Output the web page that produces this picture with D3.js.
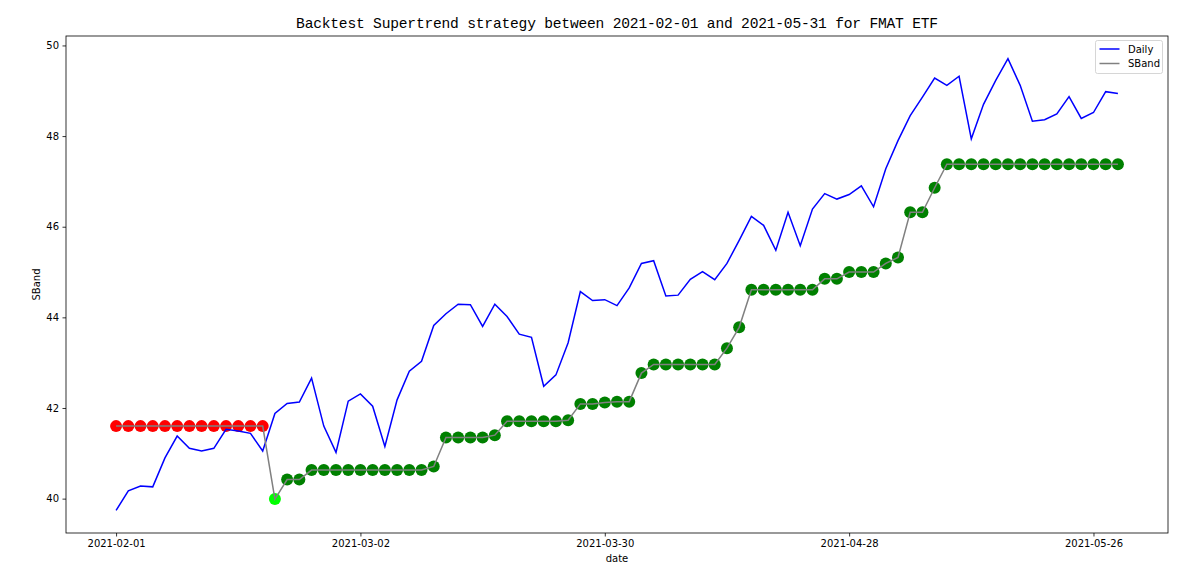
<!DOCTYPE html>
<html>
<head>
<meta charset="utf-8">
<script src="https://cdn.jsdelivr.net/npm/d3@7"></script>
<style>
  body { margin: 0; background: #fff; }
  .tick text { font-family: 'DejaVu Sans', sans-serif; font-size: 10px; fill: #000; }
</style>
</head>
<body>
<div id="chart"></div>
<script>
// trading days, 2021-02-01 .. 2021-05-28
const dates = [
  '2021-02-01', '2021-02-02', '2021-02-03', '2021-02-04', '2021-02-05', '2021-02-08', '2021-02-09',
  '2021-02-10', '2021-02-11', '2021-02-12', '2021-02-16', '2021-02-17', '2021-02-18', '2021-02-19',
  '2021-02-22', '2021-02-23', '2021-02-24', '2021-02-25', '2021-02-26',
  '2021-03-01', '2021-03-02', '2021-03-03', '2021-03-04', '2021-03-05', '2021-03-08', '2021-03-09',
  '2021-03-10', '2021-03-11', '2021-03-12', '2021-03-15', '2021-03-16', '2021-03-17', '2021-03-18',
  '2021-03-19', '2021-03-22', '2021-03-23', '2021-03-24', '2021-03-25', '2021-03-26', '2021-03-29',
  '2021-03-30', '2021-03-31',
  '2021-04-01', '2021-04-05', '2021-04-06', '2021-04-07', '2021-04-08', '2021-04-09', '2021-04-12',
  '2021-04-13', '2021-04-14', '2021-04-15', '2021-04-16', '2021-04-19', '2021-04-20', '2021-04-21',
  '2021-04-22', '2021-04-23', '2021-04-26', '2021-04-27', '2021-04-28', '2021-04-29', '2021-04-30',
  '2021-05-03', '2021-05-04', '2021-05-05', '2021-05-06', '2021-05-07', '2021-05-10', '2021-05-11',
  '2021-05-12', '2021-05-13', '2021-05-14', '2021-05-17', '2021-05-18', '2021-05-19', '2021-05-20',
  '2021-05-21', '2021-05-24', '2021-05-25', '2021-05-26', '2021-05-27', '2021-05-28'
]

const daily = [
  39.74, 40.17, 40.28, 40.26, 40.90, 41.38, 41.11, 41.05, 41.11, 41.53,
  41.49, 41.44, 41.05, 41.88, 42.10, 42.13, 42.66, 41.60, 41.02, 42.15,
  42.31, 42.04, 41.15, 42.18, 42.81, 43.03, 43.82, 44.08, 44.29, 44.28,
  43.80, 44.29, 44.02, 43.63, 43.56, 42.48, 42.73, 43.44, 44.57, 44.37,
  44.39, 44.26, 44.65, 45.19, 45.25, 44.47, 44.49, 44.84, 45.01, 44.83,
  45.19, 45.70, 46.23, 46.03, 45.48, 46.32, 45.58, 46.39, 46.73, 46.61,
  46.71, 46.90, 46.44, 47.28, 47.90, 48.45, 48.86, 49.28, 49.12, 49.32,
  47.94, 48.70, 49.23, 49.71, 49.12, 48.33, 48.36, 48.49, 48.87, 48.39,
  48.52, 48.98, 48.94
]

const sband = [
  41.60, 41.60, 41.60, 41.60, 41.60, 41.60, 41.60, 41.60, 41.60, 41.60,
  41.60, 41.60, 41.60, 39.99, 40.42, 40.42, 40.63, 40.63, 40.63, 40.63,
  40.63, 40.63, 40.63, 40.63, 40.63, 40.63, 40.71, 41.35, 41.35, 41.35,
  41.35, 41.40, 41.71, 41.71, 41.71, 41.71, 41.71, 41.73, 42.09, 42.09,
  42.12, 42.14, 42.14, 42.77, 42.96, 42.96, 42.96, 42.96, 42.96, 42.96,
  43.32, 43.78, 44.61, 44.61, 44.61, 44.61, 44.61, 44.61, 44.85, 44.85,
  45.00, 45.00, 45.00, 45.19, 45.32, 46.32, 46.32, 46.86, 47.38, 47.38,
  47.38, 47.38, 47.38, 47.38, 47.38, 47.38, 47.38, 47.38, 47.38, 47.38,
  47.38, 47.38, 47.38
]

const xTicks = ['2021-02-01', '2021-03-02', '2021-03-30', '2021-04-28', '2021-05-26']
const yTicks = [40, 42, 44, 46, 48, 50]

const fullWidth = 1204
const fullHeight = 582
const margin = { top: 36, left: 66, right: 36, bottom: 49 }
const width = fullWidth - margin.left - margin.right
const height = fullHeight - margin.top - margin.bottom

const svg = d3
  .select('#chart')
  .append('svg')
  .attr('width', fullWidth)
  .attr('height', fullHeight)

const g = svg
  .append('g')
  .attr('transform', 'translate(' + margin.left + ',' + margin.top + ')')

// rows as points, with 5% padding like matplotlib
const n = dates.length
const xPositionScale = d3
  .scalePoint()
  .domain(dates)
  .range([0, width])
  .padding(((n - 1) * 0.05))

const allValues = daily.concat(sband)
const yMin = d3.min(allValues)
const yMax = d3.max(allValues)
const pad = (yMax - yMin) * 0.05
const yPositionScale = d3
  .scaleLinear()
  .domain([yMin - pad, yMax + pad])
  .range([height, 0])

// signal colours: red while band sits above price, lime on the flip, green after
const colors = sband.map((s, i) => {
  const up = s < daily[i]
  if (!up) return 'red'
  if (i > 0 && !(sband[i - 1] < daily[i - 1])) return 'lime'
  return 'green'
})

g.selectAll('circle')
  .data(sband)
  .enter()
  .append('circle')
  .attr('cx', (d, i) => xPositionScale(dates[i]))
  .attr('cy', d => yPositionScale(d))
  .attr('r', 6)
  .attr('fill', (d, i) => colors[i])

const line = d3
  .line()
  .x((d, i) => xPositionScale(dates[i]))
  .y(d => yPositionScale(d))

g.append('path')
  .datum(daily)
  .attr('d', line)
  .attr('fill', 'none')
  .attr('stroke', 'blue')
  .attr('stroke-width', 1.5)

g.append('path')
  .datum(sband)
  .attr('d', line)
  .attr('fill', 'none')
  .attr('stroke', 'gray')
  .attr('stroke-width', 1.5)

const xAxis = d3
  .axisBottom(xPositionScale)
  .tickValues(xTicks)
  .tickSizeOuter(0)
  .tickSize(3.5)
  .tickPadding(3.5)
g.append('g')
  .attr('class', 'axis x-axis')
  .attr('transform', 'translate(0,' + height + ')')
  .call(xAxis)

const yAxis = d3
  .axisLeft(yPositionScale)
  .tickValues(yTicks)
  .tickSizeOuter(0)
  .tickSize(3.5)
  .tickPadding(3.5)
g.append('g')
  .attr('class', 'axis y-axis')
  .call(yAxis)

g.selectAll('.axis .domain').remove()
g.selectAll('.axis .tick line').attr('stroke', '#000').attr('stroke-width', 0.8)

// frame
g.append('rect')
  .attr('width', width)
  .attr('height', height)
  .attr('fill', 'none')
  .attr('stroke', '#000')
  .attr('stroke-width', 0.8)

svg.append('text')
  .attr('x', margin.left + width / 2)
  .attr('y', 28)
  .attr('text-anchor', 'middle')
  .style('font-family', "'Liberation Mono', 'Courier New', monospace")
  .style('font-size', '14.6px')
  .style('letter-spacing', '-0.2px')
  .text('Backtest Supertrend strategy between 2021-02-01 and 2021-05-31 for FMAT ETF')

svg.append('text')
  .attr('x', margin.left + width / 2)
  .attr('y', 562)
  .attr('text-anchor', 'middle')
  .style('font-family', "'DejaVu Sans', sans-serif")
  .style('font-size', '10px')
  .text('date')

svg.append('text')
  .attr('transform', 'translate(40,' + (margin.top + height / 2) + ') rotate(-90)')
  .attr('text-anchor', 'middle')
  .style('font-family', "'DejaVu Sans', sans-serif")
  .style('font-size', '10px')
  .text('SBand')

// legend
const legend = svg.append('g').attr('transform', 'translate(1095.5,40.5)')
legend.append('rect')
  .attr('width', 67)
  .attr('height', 33)
  .attr('rx', 2)
  .attr('fill', 'white')
  .attr('fill-opacity', 0.8)
  .attr('stroke', '#ccc')
  .attr('stroke-width', 0.8)

const legendItems = [{ name: 'Daily', color: 'blue' }, { name: 'SBand', color: 'gray' }]
legendItems.forEach((item, i) => {
  const y = 8.5 + i * 14.5
  legend.append('line')
    .attr('x1', 4)
    .attr('x2', 24)
    .attr('y1', y)
    .attr('y2', y)
    .attr('stroke', item.color)
    .attr('stroke-width', 1.5)
  legend.append('text')
    .attr('x', 32.5)
    .attr('y', y + 3.5)
    .style('font-family', "'DejaVu Sans', sans-serif")
    .style('font-size', '10px')
    .text(item.name)
})
</script>
</body>
</html>
